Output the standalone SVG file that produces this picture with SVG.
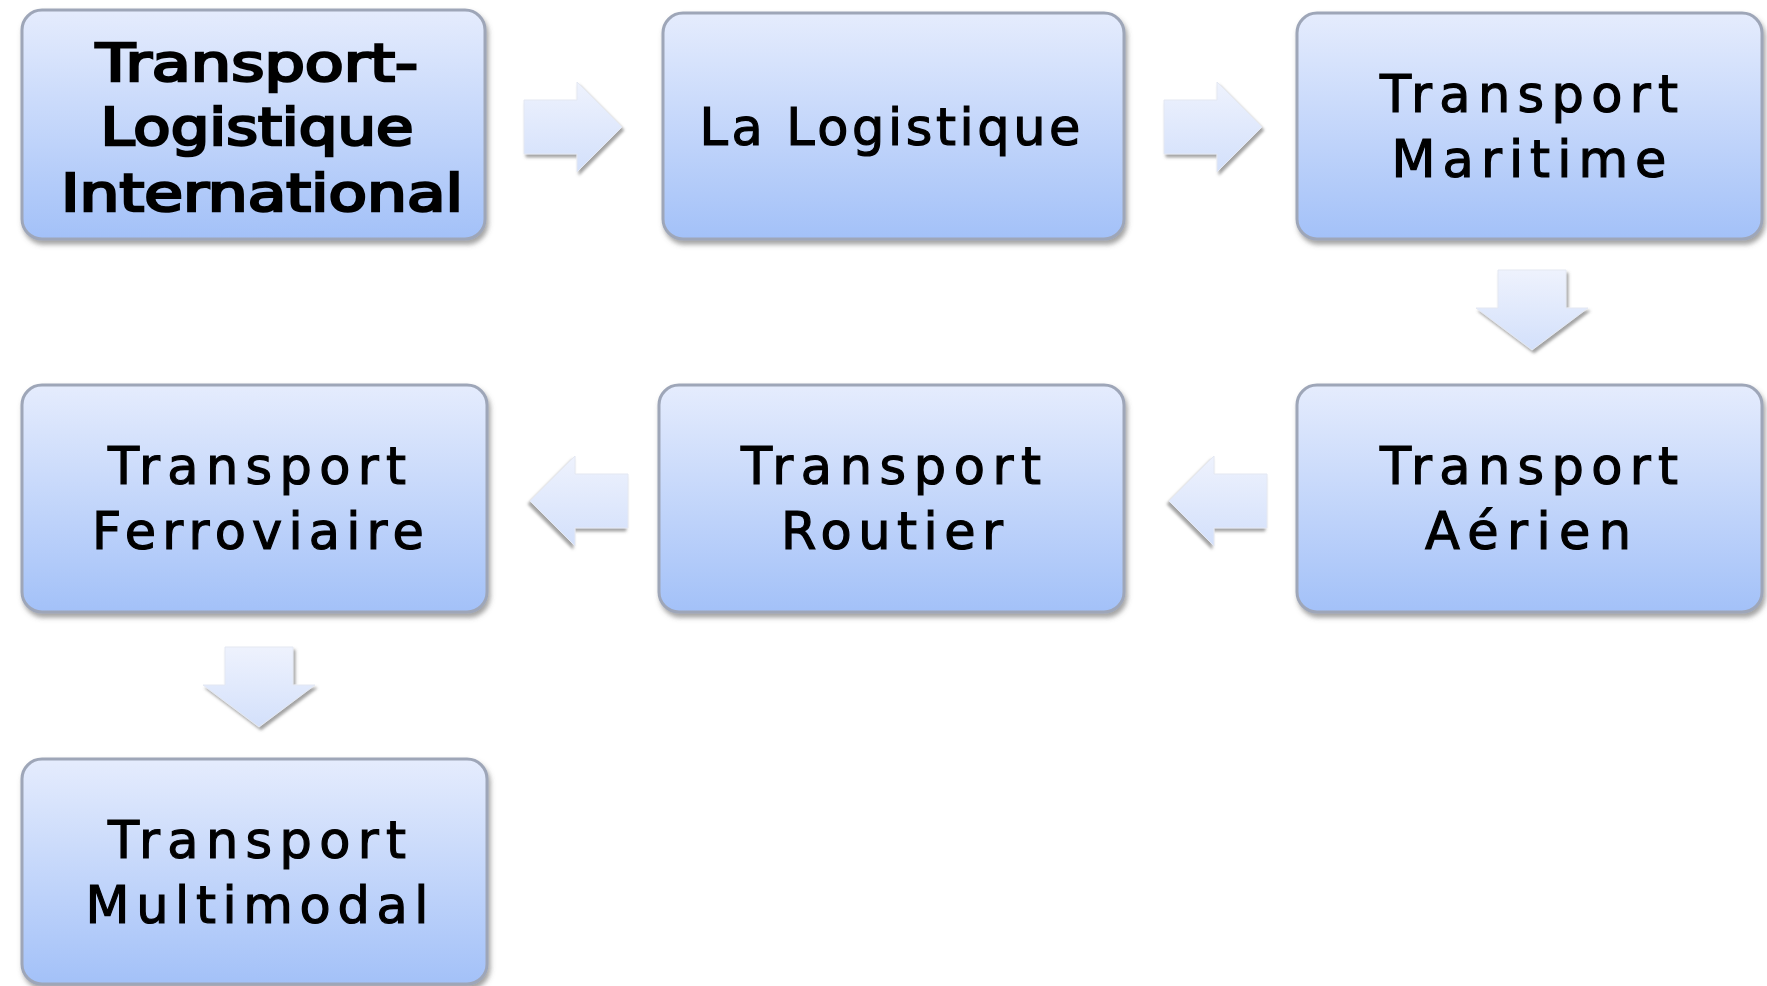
<svg xmlns="http://www.w3.org/2000/svg" width="1767" height="986" viewBox="0 0 1767 986">
<defs>
<linearGradient id="boxg" x1="0" y1="0" x2="0" y2="1">
<stop offset="0" stop-color="#e5ecfd"/>
<stop offset="1" stop-color="#a3c1f8"/>
</linearGradient>
<linearGradient id="arrg" x1="0" y1="0" x2="0" y2="1">
<stop offset="0" stop-color="#eef2fd"/>
<stop offset="1" stop-color="#d3e0fb"/>
</linearGradient>
<filter id="sh" x="-10%" y="-10%" width="125%" height="130%">
<feDropShadow dx="2" dy="4" stdDeviation="2.5" flood-color="#555" flood-opacity="0.55"/>
</filter>
<filter id="ash" x="-20%" y="-20%" width="150%" height="150%">
<feDropShadow dx="2" dy="3" stdDeviation="1.5" flood-color="#666" flood-opacity="0.6"/>
</filter>
<path id="arrR" d="M0,27 H53 V45 L98,0 L53,-45 V-27 H0 Z"/>
<path id="arrD" d="M-34,0 H34 V38 H56 L0,80 L-56,38 H-34 Z"/>
</defs>
<style>
.box{fill:url(#boxg);stroke:#9ea6b8;stroke-width:3;filter:url(#sh)}
.arr{fill:url(#arrg);stroke:#e4e8f2;stroke-width:1;filter:url(#ash)}
.t{font-family:"DejaVu Sans","Liberation Sans",sans-serif;font-size:51px;fill:#000;stroke:#000;stroke-width:1.2;text-anchor:middle}
.b{stroke-width:2.6}
</style>
<rect width="1767" height="986" fill="#fff"/>
<g id="connectors">
<use href="#arrR" class="arr" transform="translate(524,127)"/>
<use href="#arrR" class="arr" transform="translate(1164,127)"/>
<use href="#arrD" class="arr" transform="translate(1532,270)"/>
<use href="#arrR" class="arr" transform="translate(1267,501) scale(-1,1)"/>
<use href="#arrR" class="arr" transform="translate(628,501) scale(-1,1)"/>
<use href="#arrD" class="arr" transform="translate(259,647)"/>
</g>
<g id="n1">
<rect class="box" x="22" y="10" width="463" height="229" rx="20"/>
<text class="t b" x="257" y="81" textLength="322" lengthAdjust="spacingAndGlyphs">Transport-</text>
<text class="t b" x="257" y="145" textLength="313" lengthAdjust="spacingAndGlyphs">Logistique</text>
<text class="t b" x="262" y="211" textLength="402" lengthAdjust="spacingAndGlyphs">International</text>
</g>
<g id="n2">
<rect class="box" x="663" y="13" width="461" height="226" rx="20"/>
<text class="t" x="890" y="145" textLength="381" lengthAdjust="spacing">La Logistique</text>
</g>
<g id="n3">
<rect class="box" x="1297" y="13" width="465" height="226" rx="20"/>
<text class="t" x="1529" y="112" textLength="298" lengthAdjust="spacing">Transport</text>
<text class="t" x="1529" y="177" textLength="275" lengthAdjust="spacing">Maritime</text>
</g>
<g id="n4">
<rect class="box" x="22" y="385" width="465" height="227" rx="20"/>
<text class="t" x="257" y="484" textLength="298" lengthAdjust="spacing">Transport</text>
<text class="t" x="258" y="549" textLength="332" lengthAdjust="spacing">Ferroviaire</text>
</g>
<g id="n5">
<rect class="box" x="659" y="385" width="465" height="227" rx="20"/>
<text class="t" x="891" y="484" textLength="300" lengthAdjust="spacing">Transport</text>
<text class="t" x="892" y="549" textLength="222" lengthAdjust="spacing">Routier</text>
</g>
<g id="n6">
<rect class="box" x="1297" y="385" width="465" height="227" rx="20"/>
<text class="t" x="1529" y="484" textLength="298" lengthAdjust="spacing">Transport</text>
<text class="t" x="1528" y="549" textLength="206" lengthAdjust="spacing">Aérien</text>
</g>
<g id="n7">
<rect class="box" x="22" y="759" width="465" height="225" rx="20"/>
<text class="t" x="257" y="858" textLength="298" lengthAdjust="spacing">Transport</text>
<text class="t" x="257" y="923" textLength="343" lengthAdjust="spacing">Multimodal</text>
</g>
</svg>
